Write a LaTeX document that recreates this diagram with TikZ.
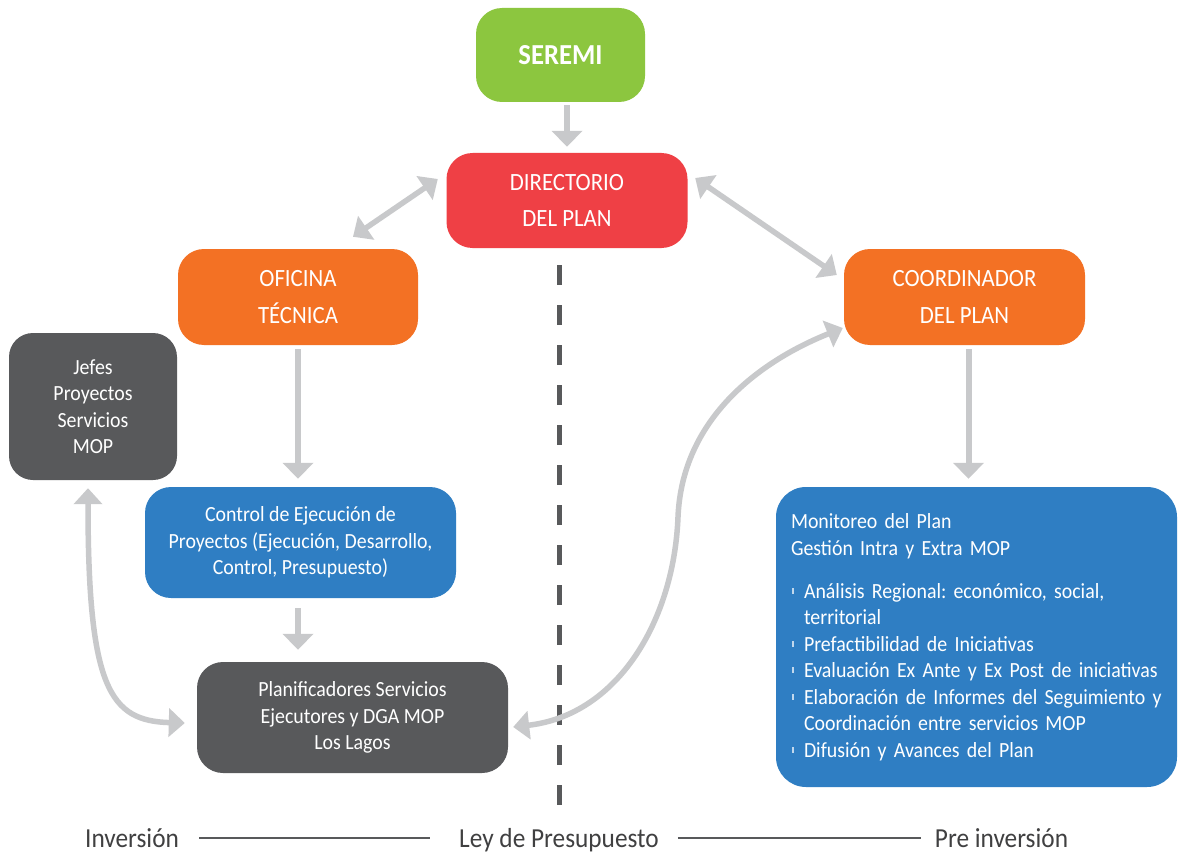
\documentclass[tikz,border=0pt]{standalone}
\usepackage{fontspec}
\setmainfont{Carlito}[FakeStretch=0.92]
\usetikzlibrary{arrows.meta,calc}
\definecolor{cgreen}{HTML}{8CC63F}
\definecolor{cred}{HTML}{EF4045}
\definecolor{corange}{HTML}{F37124}
\definecolor{cblue}{HTML}{2F7EC3}
\definecolor{cdark}{HTML}{58595B}
\definecolor{carrow}{HTML}{C8C9CB}
\definecolor{ctext}{HTML}{404041}
\newcommand{\monbullet}{\makebox[13pt][l]{\hspace{1pt}\textcolor{white!70!cblue}{\rule[0.2em]{2pt}{6pt}}}}
\frenchspacing
\begin{document}
\begin{tikzpicture}[x=1pt,y=-1pt,
 box/.style={draw=none, rounded corners=26pt, text=white, align=center, inner sep=0pt},
 title/.style={font=\fontsize{24.8}{36.5}\selectfont},
 body/.style={font=\fontsize{21.6}{26.5}\selectfont},
 arr/.style={draw=carrow, line width=6pt, -{Triangle[width=30pt,length=16pt]}},
 darr/.style={draw=carrow, line width=5.5pt, {Triangle[width=28pt,length=16pt]}-{Triangle[width=28pt,length=16pt]}},
 dashline/.style={draw=cdark, line width=5pt, dash pattern=on 20pt off 20pt},
 axis/.style={draw=cdark, line width=2pt},
 axlabel/.style={text=ctext, inner sep=0pt, anchor=base, font=\fontsize{27.5}{30}\selectfont}
]
\useasboundingbox[fill=white] (0,0) rectangle (1178,856);

% boxes
\node[box, fill=cgreen, minimum width=169pt, minimum height=94pt, font=\bfseries\fontsize{29}{30}\selectfont] (seremi) at (560.5,55) {SEREMI};
\node[box, fill=cred, title, minimum width=241pt, minimum height=95pt] (dir) at (567,200.5) {DIRECTORIO\\DEL PLAN};
\node[box, fill=corange, title, minimum width=240pt, minimum height=96pt] (ofi) at (298,297) {OFICINA\\TÉCNICA};
\node[box, fill=corange, title, minimum width=241pt, minimum height=96pt] (coord) at (964.5,297) {COORDINADOR\\DEL PLAN};
\node[box, fill=cdark, body, rounded corners=24pt, minimum width=168pt, minimum height=147pt] (jefes) at (93,406.5) {Jefes\\Proyectos\\Servicios\\MOP};
\node[box, fill=cblue, body, minimum width=311pt, minimum height=111pt] (ctrl) at (300.5,542.5) {Control de Ejecución de\\Proyectos (Ejecución, Desarrollo,\\Control, Presupuesto)};
\node[box, fill=cdark, body, minimum width=311pt, minimum height=111pt] (plan) at (352.5,717.5) {Planificadores Servicios\\Ejecutores y DGA MOP\\Los Lagos};
\node[box, fill=cblue, body, rounded corners=30pt, minimum width=401pt, minimum height=300pt, text width=371pt, align=left] (mon) at (976.5,637) {Monitoreo del Plan\\
Gestión Intra y Extra MOP\\[16.5pt]
\monbullet Análisis Regional: económico, social,\\
\hspace*{13pt}territorial\\
\monbullet Prefactibilidad de Iniciativas\\
\monbullet Evaluación Ex Ante y Ex Post de iniciativas\\
\monbullet Elaboración de Informes del Seguimiento y\\
\hspace*{13pt}Coordinación entre servicios MOP\\
\monbullet Difusión y Avances del Plan};

% bottom axis labels
\node[axlabel] (inv) at (132,847) {Inversión};
\node[axlabel] (ley) at (559,847) {Ley de Presupuesto};
\node[axlabel] (pre) at (1001.5,847) {Pre inversión};
\coordinate (dashend) at (559,806);

% dashed divider
\draw[dashline] ($(dir.south -| ley.base)+(0,17)$) -- (dashend);

% axis lines
\draw[axis] ($(inv.base east)+(20,-9)$) -- ($(ley.base west)+(-29,-9)$);
\draw[axis] ($(ley.base east)+(19,-9)$) -- ($(pre.base west)+(-14,-9)$);

% straight arrows
\draw[arr] ($(seremi.south -| dir.north)+(0,3)$) -- ($(dir.north)+(0,-6)$);
\draw[arr] ($(ofi.south)+(0,4)$) -- ($(ofi.south |- ctrl.north)+(0,-8)$);
\draw[arr] ($(ofi.south |- ctrl.south)+(0,10)$) -- ($(ofi.south |- plan.north)+(0,-12)$);
\draw[arr] ($(coord.south)+(4,4)$) -- ($(coord.south |- mon.north)+(4,-8)$);

% double arrows
\draw[darr] ($(dir.west)+(-8.5,-21.5)$) -- ($(ofi.north)+(55,-12)$);
\draw[darr] ($(dir.east)+(7.5,-22.5)$) -- ($(coord.west)+(-7,-22)$);

% curved double arrows
\draw[darr] ($(jefes.south)+(-5,8)$) .. controls +(0,200) and +(-75,-2) .. ($(plan.west)+(-12,5.5)$);
\coordinate (smid) at (678,517);
\draw[darr] ($(plan.east)+(5,9.5)$) .. controls +(105,-12) and +(-4,103) .. (smid) .. controls +(4,-97) and +(-85,34) .. ($(coord.west)+(-1,31)$);
\end{tikzpicture}
\end{document}
